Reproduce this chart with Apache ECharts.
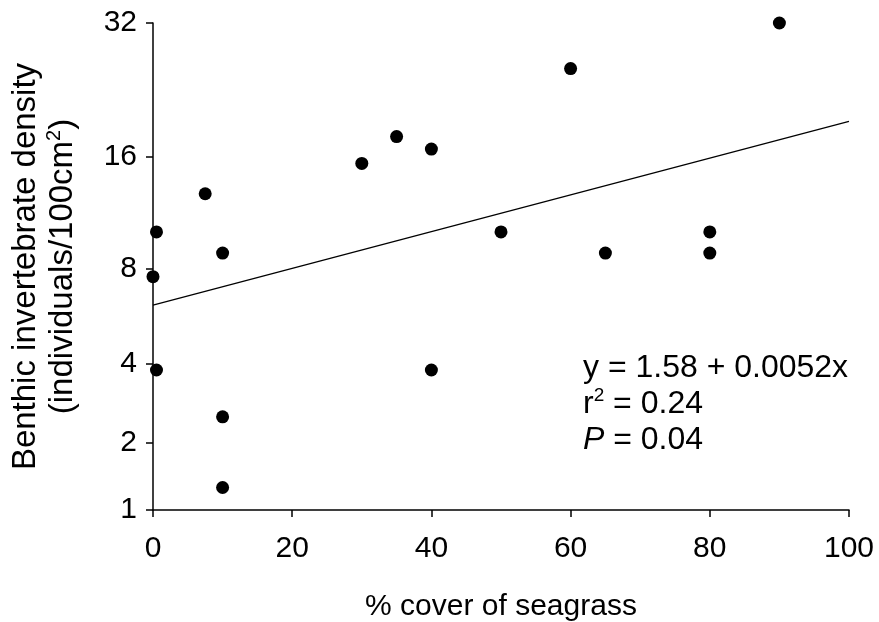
<!DOCTYPE html>
<html>
<head>
<meta charset="utf-8">
<script src="https://cdn.jsdelivr.net/npm/echarts@6/dist/echarts.min.js"></script>
<style>
html,body{margin:0;padding:0;background:#fff;}
#chart{width:879px;height:622px;}
</style>
</head>
<body>
<div id="chart"></div>
<script>
// % cover of seagrass
var cover = [0, 0.5, 0.5, 7.5, 10, 10, 10, 30, 35, 40, 40, 50, 60, 65, 80, 80, 90];
// benthic invertebrate density (individuals/100cm2)
var density = [7.6, 10.2, 3.8, 12.9, 8.9, 2.55, 1.28, 15.4, 17.9, 16.7, 3.8, 10.2, 25.6, 8.9, 10.2, 8.9, 32];
var yTicks = [1, 2, 4, 8, 16, 32];
var xTicks = [0, 20, 40, 60, 80, 100];
// fitted line, fourth-root scale
var fitIntercept = 1.58;
var fitSlope = 0.0052;

var font = "'Liberation Sans', Arial, sans-serif";
function tr(v){ return Math.pow(v, 0.25); }

var points = [];
for(var i=0;i<cover.length;i++){
	points.push([cover[i], tr(density[i])]);
}
var fitLine = [[0, fitIntercept], [100, fitIntercept + fitSlope*100]];

var chart = echarts.init(document.getElementById("chart"));
var option = {
	animation:false,
	backgroundColor:"#fff",
	grid:{left:153, right:30, top:23, bottom:112, containLabel:false, outerBoundsMode:"none"},
	xAxis:{
		type:"value", min:0, max:100, interval:20,
		name:"% cover of seagrass", nameLocation:"middle", nameGap:82,
		nameTextStyle:{color:"#000", fontSize:30, fontFamily:font},
		axisLine:{lineStyle:{color:"#000", width:1.5}},
		axisTick:{show:true, length:7, lineStyle:{color:"#000", width:1.5}},
		axisLabel:{color:"#000", fontSize:30, fontFamily:font, margin:24},
		splitLine:{show:false}
	},
	yAxis:{
		type:"value", min:1, max:tr(32),
		name:"{a|Benthic invertebrate density}\n{a|(individuals/100cm}{s|2}{a|)}",
		nameLocation:"middle", nameGap:72, nameRotate:90,
		nameTextStyle:{color:"#000", fontFamily:font,
			rich:{
				a:{fontSize:33, fontFamily:font, color:"#000", lineHeight:37},
				s:{fontSize:20, fontFamily:font, color:"#000", verticalAlign:"top", lineHeight:37, padding:[0,0,12,0]}
			}
		},
		axisLine:{lineStyle:{color:"#000", width:1.5}},
		axisTick:{show:true, length:7, customValues:yTicks.map(tr), lineStyle:{color:"#000", width:1.5}},
		axisLabel:{color:"#000", fontSize:30, fontFamily:font, margin:16,
			customValues:yTicks.map(tr),
			formatter:function(v){ return String(Math.round(Math.pow(v,4))); }
		},
		splitLine:{show:false}
	},
	series:[
		{
			type:"line", data:fitLine, symbol:"none", silent:true,
			lineStyle:{color:"#000", width:1.2}
		},
		{
			type:"scatter", data:points, symbol:"circle", symbolSize:13,
			itemStyle:{color:"#000", opacity:1}
		}
	],
	graphic:[
		{
			type:"text", left:583, top:350,
			style:{
				text:"y = 1.58 + 0.0052x\n{t|r}{s|2}{t| = 0.24}\n{i|P}{t| = 0.04}",
				font:"32px " + font, fill:"#000", lineHeight:36,
				rich:{
					t:{fontSize:32, fontFamily:font, lineHeight:36},
					s:{fontSize:19, fontFamily:font, verticalAlign:"top", lineHeight:36, padding:[0,0,12,0]},
					i:{fontSize:32, fontFamily:font, fontStyle:"italic", lineHeight:36}
				}
			}
		}
	]
};
chart.setOption(option);
</script>
</body>
</html>
